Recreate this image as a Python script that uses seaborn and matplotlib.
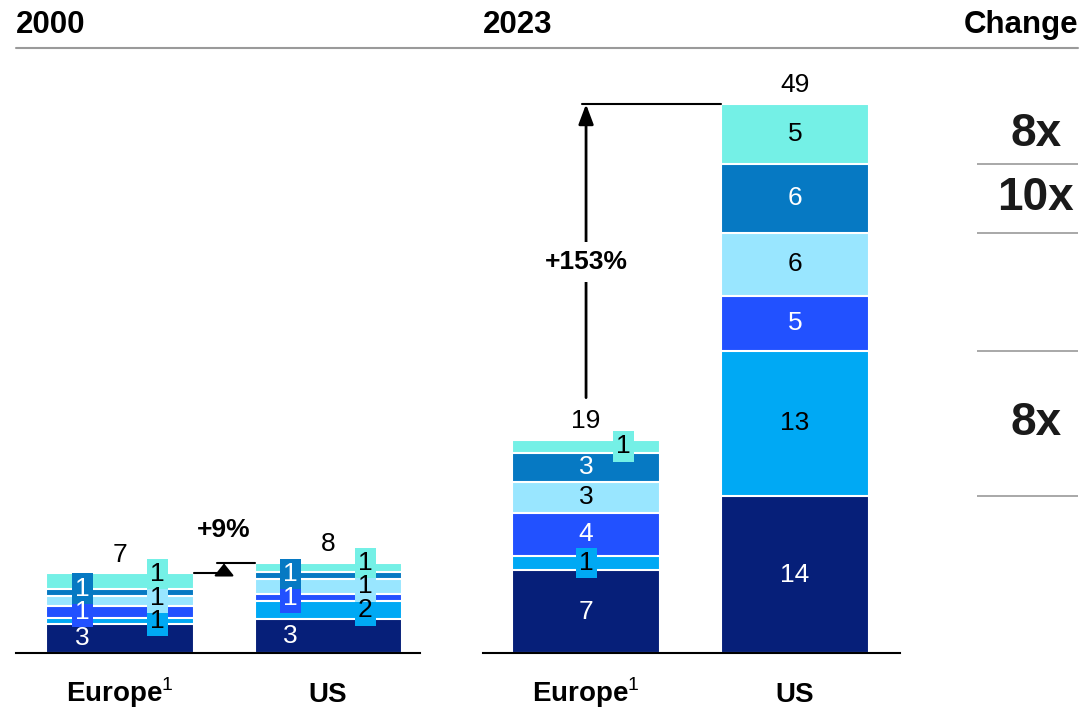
import pandas as pd
import matplotlib.pyplot as plt
import seaborn as sns
from matplotlib.lines import Line2D

# DATA
regions = ["Europe$^{1}$", "US"]
layers = ["base", "cyan", "blue", "pale", "mid", "teal"]
colors = ["#061F79", "#00A9F4", "#2251FF", "#99E6FF", "#0679C3", "#74F0E6"]
text_colors = ["white", "black", "white", "black", "white", "black"]

europe_2000 = [2.6, 0.5, 1.1, 0.9, 0.6, 1.4]
us_2000 = [3.0, 1.6, 0.7, 1.3, 0.6, 0.8]
europe_2023 = [7.4, 1.3, 3.8, 2.8, 2.6, 1.1]
us_2023 = [14.0, 13.0, 4.9, 5.6, 6.2, 5.3]

labels_europe_2000 = ["3", "1", "1", "1", "1", "1"]
labels_us_2000 = ["3", "2", "1", "1", "1", "1"]
labels_europe_2023 = ["7", "1", "4", "3", "3", "1"]
labels_us_2023 = ["14", "13", "5", "6", "6", "5"]

totals_2000 = ["7", "8"]
totals_2023 = ["19", "49"]
growth_2000 = "+9%"
growth_2023 = "+153%"

# change column: groups of US 2023 layers
change_groups = [[1], [2, 3], [4], [5]]
change_labels = ["8x", "", "10x", "8x"]

# label placement (C centre, L left, R right) and whether in a box
places_2000 = ["L", "R", "L", "R", "L", "R"]
boxed_2000 = [False, True, True, True, True, True]
places_eu_2023 = ["C", "C", "C", "C", "C", "R"]
boxed_eu_2023 = [False, True, False, False, False, True]
places_us_2023 = ["C"] * 6
boxed_us_2023 = [False] * 6

BAR_W = 0.707
X_OFF = {"C": 0.0, "L": -0.18, "R": 0.18}
FS = 19

sns.set_theme(style="white")
plt.rcParams["font.family"] = ["Liberation Sans", "DejaVu Sans"]
plt.rcParams["mathtext.fontset"] = "custom"
plt.rcParams["mathtext.rm"] = "Liberation Sans"
plt.rcParams["mathtext.bf"] = "Liberation Sans:bold"
plt.rcParams["text.color"] = "black"
plt.rcParams["xtick.color"] = "black"

W, H = 1089, 714
fig = plt.figure(figsize=(W / 100, H / 100), dpi=100)


def rect(x0, x1):
    return [x0 / W, (H - 653) / H, (x1 - x0) / W, 52 * 11.2 / H]


ax1 = fig.add_axes(rect(16, 420))
ax2 = fig.add_axes(rect(483, 900))
ax3 = fig.add_axes(rect(977, 1078))


def draw_panel(ax, bars, labels, places, boxed, totals):
    df = pd.DataFrame(bars, index=regions, columns=layers)
    cum = df.cumsum(axis=1)
    # draw cumulative layers from top to bottom
    for i in reversed(range(len(layers))):
        sns.barplot(x=regions, y=cum.iloc[:, i].values, color=colors[i],
                    saturation=1, width=BAR_W, edgecolor="white",
                    linewidth=1.5, ax=ax)
    for j in range(len(regions)):
        last_y = {"L": -99, "R": -99, "C": -99}
        for i in range(len(layers)):
            v = df.iloc[j, i]
            bottom = cum.iloc[j, i] - v
            y = bottom + v / 2
            p = places[j][i]
            x = j + X_OFF[p]
            if boxed[j][i]:
                y = max(y, last_y[p] + 2.1)
                last_y[p] = y
                # box only (text hidden), real text drawn on top
                ax.text(x, y, labels[j][i], ha="center", va="center",
                        fontsize=FS, color=colors[i], zorder=4,
                        bbox=dict(boxstyle="square,pad=0.12", fc=colors[i], ec="none"))
            ax.text(x, y, labels[j][i], ha="center", va="center",
                    fontsize=FS, color=text_colors[i], zorder=6)
        ax.annotate(totals[j], (j, cum.iloc[j, -1]), xytext=(0, 5),
                    textcoords="offset points", ha="center", va="bottom",
                    fontsize=FS, color="black")
    ax.set_ylim(0, 52)
    ax.set_xlabel("")
    ax.set_ylabel("")
    ax.set_yticks([])
    ax.set_xticks([0, 1])
    ax.set_xticklabels(regions, fontsize=20, fontweight="bold")
    for lbl in ax.get_xticklabels():
        lbl.set_verticalalignment("baseline")
    ax.tick_params(axis="x", length=0, pad=35)
    for s in ["top", "left", "right"]:
        ax.spines[s].set_visible(False)
    ax.spines["bottom"].set_color("black")
    ax.spines["bottom"].set_linewidth(1.5)
    return cum.iloc[:, -1].values


tot_2000 = draw_panel(ax1, [europe_2000, us_2000],
                      [labels_europe_2000, labels_us_2000],
                      [places_2000, places_2000],
                      [boxed_2000, boxed_2000], totals_2000)
ax1.set_xlim(-0.5, 1.442)

tot_2023 = draw_panel(ax2, [europe_2023, us_2023],
                      [labels_europe_2023, labels_us_2023],
                      [places_eu_2023, places_us_2023],
                      [boxed_eu_2023, boxed_us_2023], totals_2023)
ax2.set_xlim(-0.493, 1.502)

# growth arrow 2000
ax1.plot([BAR_W / 2, 0.515], [tot_2000[0]] * 2, color="black", lw=1.5)
ax1.plot([0.466, 1 - BAR_W / 2], [tot_2000[1]] * 2, color="black", lw=1.5)
ax1.annotate("", xy=(0.5, tot_2000[1]), xytext=(0.5, tot_2000[0]),
             arrowprops=dict(arrowstyle="-|>,head_length=0.5,head_width=0.4",
                             mutation_scale=15, color="black", lw=1.5,
                             shrinkA=0, shrinkB=0))
ax1.text(0.5, 11.0, growth_2000, ha="center", va="center", fontsize=FS,
         fontweight="bold")

# growth arrow 2023
ax2.plot([-0.02, 1 - BAR_W / 2], [tot_2023[1]] * 2, color="black", lw=1.5)
ax2.annotate("", xy=(0.0, tot_2023[1]), xytext=(0.0, tot_2023[0] + 3.8),
             arrowprops=dict(arrowstyle="-|>,head_length=0.8,head_width=0.3",
                             mutation_scale=15, color="black", lw=2,
                             shrinkA=0, shrinkB=0))
ax2.text(0.0, 34.9, growth_2023, ha="center", va="center", fontsize=FS,
         fontweight="bold", bbox=dict(boxstyle="square,pad=0.3", fc="white", ec="none"))

# change column
us_cum = pd.Series(us_2023).cumsum().values
ax3.set_xlim(0, 1)
ax3.set_ylim(0, 52)
ax3.axis("off")
for grp, lab in zip(change_groups, change_labels):
    lo = us_cum[grp[0]] - us_2023[grp[0]]
    hi = us_cum[grp[-1]]
    ax3.axhline(lo, color="#9a9a9a", lw=1.2)
    if lab:
        ax3.text(0.58, (lo + hi) / 2, lab, ha="center", va="center",
                 fontsize=33, fontweight="bold", color="#1a1a1a")

# headers
hy = 1 - 25 / H
fig.text(16 / W, hy, "2000", ha="left", va="center", fontsize=22.5, fontweight="bold")
fig.text(483 / W, hy, "2023", ha="left", va="center", fontsize=22.5, fontweight="bold")
fig.text(1078 / W, hy, "Change", ha="right", va="center", fontsize=22.5, fontweight="bold")
fig.add_artist(Line2D([16 / W, 1078 / W], [1 - 48 / H] * 2, color="#9a9a9a", lw=1.5))

fig.savefig("out.png", dpi=100)
